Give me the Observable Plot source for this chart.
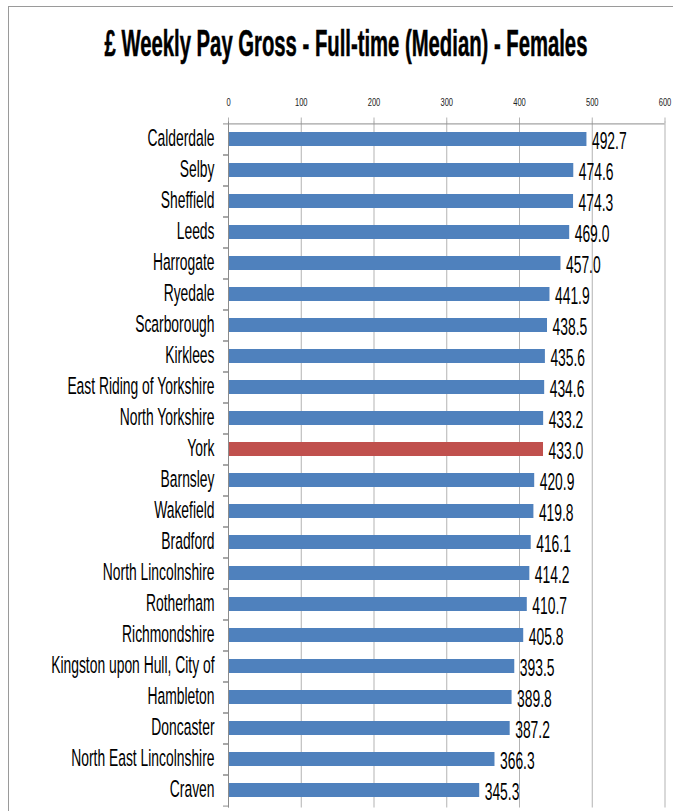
<!DOCTYPE html>
<html><head><meta charset="utf-8">
<script src="https://cdn.jsdelivr.net/npm/d3@7"></script>
<script src="https://cdn.jsdelivr.net/npm/@observablehq/plot@0.6"></script>
<style>
html,body{margin:0;padding:0;background:#fff;}
#wrap{position:relative;width:673px;height:811px;overflow:hidden;font-family:"Liberation Sans",Arial,sans-serif;}
#border{position:absolute;left:8px;top:6px;right:-10px;bottom:-10px;border-top:1.5px solid #9a9a9a;border-left:1.5px solid #9a9a9a;}
#title{position:relative;height:80px;}
#title span{position:absolute;left:345.5px;top:25.5px;font-size:36px;line-height:1;font-weight:bold;white-space:nowrap;color:#000;-webkit-text-stroke:0.5px #000;transform-origin:50% 0;transform:translateX(-50%) scaleX(0.563);}
#chart{position:relative;}
</style></head>
<body><div id="wrap"><div id="border"></div><div id="title"><span>£ Weekly Pay Gross - Full-time (Median) - Females</span></div><div id="chart"></div></div>
<script>
const categories = ["Calderdale","Selby","Sheffield","Leeds","Harrogate","Ryedale","Scarborough","Kirklees","East Riding of Yorkshire","North Yorkshire","York","Barnsley","Wakefield","Bradford","North Lincolnshire","Rotherham","Richmondshire","Kingston upon Hull, City of","Hambleton","Doncaster","North East Lincolnshire","Craven"];
const values = [492.7,474.6,474.3,469.0,457.0,441.9,438.5,435.6,434.6,433.2,433.0,420.9,419.8,416.1,414.2,410.7,405.8,393.5,389.8,387.2,366.3,345.3];
const highlight = "York";
const tickValues = [0,100,200,300,400,500,600];
const blue = "#4F81BD", red = "#C0504D";

const data = categories.map((c,i)=>({cat:c, value:values[i]}));
const half = 686/22/2;

const plot = Plot.plot({
  width: 673,
  height: 731,
  marginTop: 41.5,
  marginBottom: 3.5,
  marginLeft: 228,
  marginRight: 8.5,
  style: {fontFamily: '"Liberation Sans", Arial, sans-serif', background: "transparent", color: "#000"},
  x: {domain: [0,600], label: null},
  y: {domain: categories, paddingInner: 0.55, paddingOuter: 0.275, label: null},
  color: {type: "identity"},
  marks: [
    Plot.gridX(tickValues, {stroke: "#b3b3b3", strokeOpacity: 1, strokeWidth: 1}),
    Plot.axisX({anchor: "top", ticks: tickValues, tickSize: 5, tickPadding: 11, fontSize: 11.6, stroke: "#b3b3b3", fill: "#222", label: null}),
    Plot.barX(data, {x: "value", y: "cat", fill: d => d.cat === highlight ? red : blue}),
    Plot.ruleX([0], {stroke: "#8c8c8c", strokeWidth: 1}),
    Plot.ruleY([categories[0]], {dy: -half, x1: 0, x2: 600, stroke: "#8c8c8c", strokeWidth: 1}),
    Plot.axisY({tickSize: 5, text: null, dy: half, stroke: "#8c8c8c", label: null}),
    Plot.axisY({tickSize: 5, text: null, dy: -half, stroke: "#8c8c8c", label: null}),
    Plot.axisY({tickSize: 0, tickPadding: 14, fontSize: 23.5, dy: -1, fill: "#000", label: null}),
    Plot.text(data, {x: "value", y: "cat", text: d => d.value.toFixed(1), dx: 5, dy: 2, textAnchor: "start", fontSize: 23.5, fill: "#000"})
  ]
});
document.getElementById("chart").appendChild(plot);

function squeeze(sel, s) {
  plot.querySelectorAll(sel).forEach(t => {
    let tr = t.getAttribute("transform");
    if (!tr) {
      const x = t.getAttribute("x");
      tr = `translate(${x ? parseFloat(x) : 0},0)`;
      t.removeAttribute("x");
    }
    t.setAttribute("transform", tr + ` scale(${s},1)`);
  });
}
squeeze('g[aria-label="y-axis tick label"] text', 0.59);
squeeze('g[aria-label="x-axis tick label"] text', 0.65);
squeeze('g[aria-label="text"] text', 0.59);
</script>
</body></html>
